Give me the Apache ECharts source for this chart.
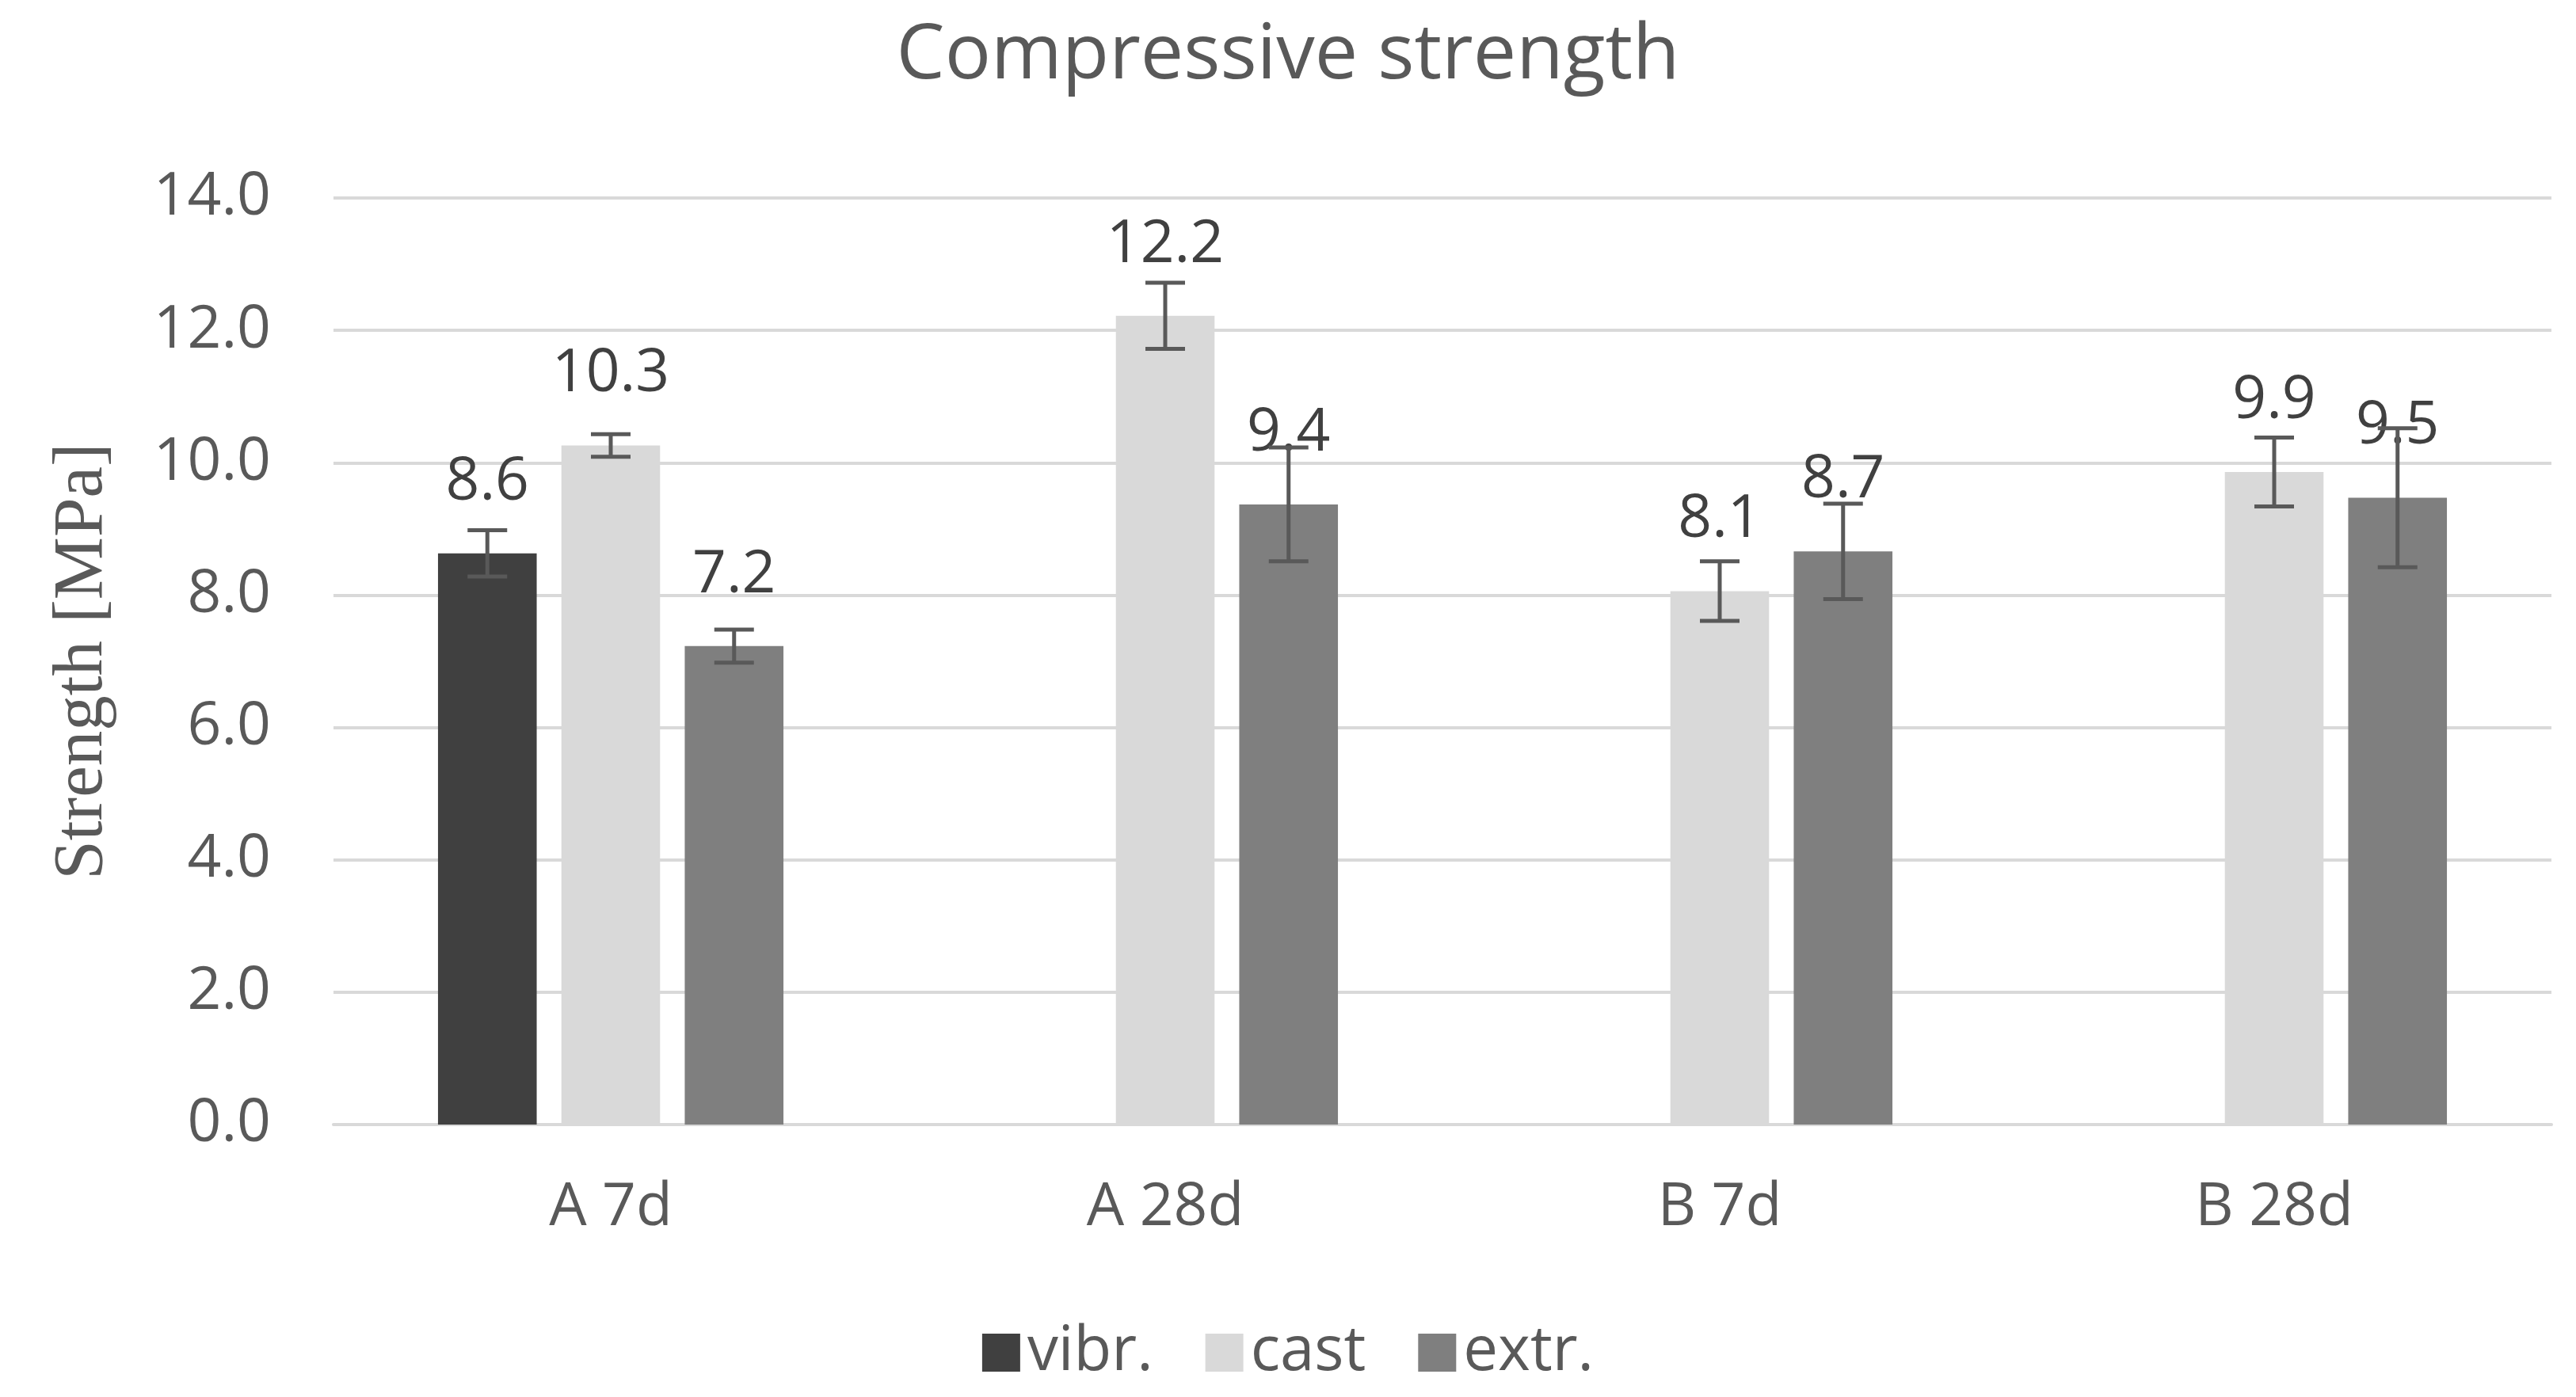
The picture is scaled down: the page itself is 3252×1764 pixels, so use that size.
<!DOCTYPE html>
<html>
<head>
<meta charset="utf-8">
<script src="https://cdn.jsdelivr.net/npm/echarts@6/dist/echarts.min.js"></script>
<style>
html,body{margin:0;padding:0;background:#fff;}
#chart{width:3252px;height:1764px;}
</style>
</head>
<body>
<div id="chart"></div>
<script>
const categories = ['A 7d', 'A 28d', 'B 7d', 'B 28d'];
const seriesNames = ['vibr.', 'cast', 'extr.'];
const vibrValues = [8.63, null, null, null];
const castValues = [10.26, 12.22, 8.06, 9.86];
const extrValues = [7.23, 9.37, 8.66, 9.47];
const vibrErrors = [0.35, null, null, null];
const castErrors = [0.17, 0.5, 0.45, 0.52];
const extrErrors = [0.25, 0.86, 0.72, 1.05];
const yTicks = [0, 2, 4, 6, 8, 10, 12, 14];
const colors = ['#404040', '#d9d9d9', '#7f7f7f'];

const FONT = '"Open Sans", sans-serif';
const BAR_FRAC = 0.178;
const BAR_GAP = 0.25;

function barSeries(name, values, color) {
  return {
    name: name,
    type: 'bar',
    data: values,
    barWidth: (BAR_FRAC * 100) + '%',
    barGap: (BAR_GAP * 100) + '%',
    itemStyle: { color: color },
    z: 2,
    label: {
      show: true,
      position: 'top',
      distance: 52,
      color: '#404040',
      fontFamily: FONT,
      fontSize: 75,
      formatter: p => p.value == null ? '' : Number(p.value).toFixed(1)
    }
  };
}

function errSeries(values, errors, slot) {
  const data = [];
  values.forEach((v, i) => {
    if (v != null && errors[i] != null) data.push([i, v - errors[i], v + errors[i]]);
  });
  return {
    type: 'custom',
    z: 5,
    silent: true,
    data: data,
    encode: { x: 0, y: [1, 2] },
    renderItem: function (params, api) {
      const x = api.value(0);
      const pLo = api.coord([x, api.value(1)]);
      const pHi = api.coord([x, api.value(2)]);
      const cw = api.size([1, 0])[0];
      const w = cw * BAR_FRAC;
      const cx = pLo[0] + slot * w * (1 + BAR_GAP);
      const cap = 25;
      const style = { stroke: '#595959', lineWidth: 5 };
      return {
        type: 'group',
        children: [
          { type: 'line', shape: { x1: cx, y1: pLo[1], x2: cx, y2: pHi[1] }, style: style },
          { type: 'line', shape: { x1: cx - cap, y1: pLo[1], x2: cx + cap, y2: pLo[1] }, style: style },
          { type: 'line', shape: { x1: cx - cap, y1: pHi[1], x2: cx + cap, y2: pHi[1] }, style: style }
        ]
      };
    }
  };
}

const chart = echarts.init(document.getElementById('chart'));
chart.setOption({
  backgroundColor: '#ffffff',
  animation: false,
  title: {
    text: 'Compressive strength',
    left: 'center',
    top: 18,
    textStyle: { fontFamily: FONT, fontSize: 97, fontWeight: 'normal', color: '#595959' }
  },
  legend: {
    data: seriesNames,
    bottom: 12,
    left: 'center',
    itemWidth: 48,
    itemHeight: 48,
    itemGap: 66,
    icon: 'rect',
    textStyle: { fontFamily: FONT, fontSize: 78, color: '#595959', padding: [0, 0, 0, 4] }
  },
  grid: { left: 421, right: 31, top: 250, bottom: 344, containLabel: false },
  xAxis: {
    type: 'category',
    data: categories,
    axisLine: { lineStyle: { color: '#d9d9d9', width: 4 } },
    axisTick: { show: false },
    axisLabel: { fontFamily: FONT, fontSize: 75, color: '#595959', margin: 68 }
  },
  yAxis: {
    type: 'value',
    min: yTicks[0],
    max: yTicks[yTicks.length - 1],
    interval: 2,
    name: 'Strength [MPa]',
    nameLocation: 'middle',
    nameGap: 272,
    nameTextStyle: { fontFamily: '"Liberation Serif", serif', fontSize: 89, color: '#595959' },
    axisLine: { show: false },
    axisTick: { show: false },
    splitLine: { lineStyle: { color: '#d9d9d9', width: 4 } },
    axisLabel: {
      fontFamily: FONT, fontSize: 75, color: '#595959', margin: 79,
      formatter: v => v.toFixed(1)
    }
  },
  series: [
    barSeries(seriesNames[0], vibrValues, colors[0]),
    barSeries(seriesNames[1], castValues, colors[1]),
    barSeries(seriesNames[2], extrValues, colors[2]),
    errSeries(vibrValues, vibrErrors, -1),
    errSeries(castValues, castErrors, 0),
    errSeries(extrValues, extrErrors, 1)
  ]
});
</script>
</body>
</html>
